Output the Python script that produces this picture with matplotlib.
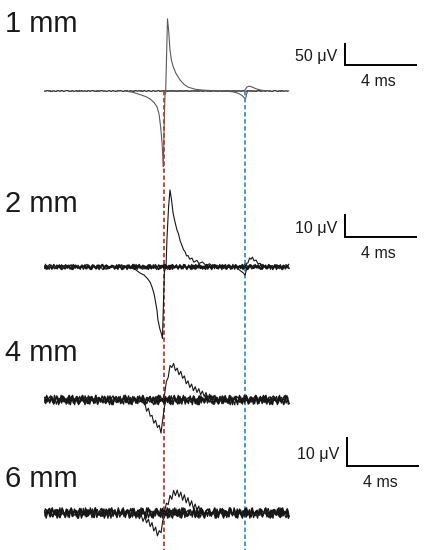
import numpy as np
import matplotlib
matplotlib.use("Agg")
import matplotlib.pyplot as plt

plt.rcParams['font.family'] = ['Liberation Sans', 'DejaVu Sans']

# distances from the source and sweep length (ms)
labels = ["1 mm", "2 mm", "4 mm", "6 mm"]
sweep_ms = 13.6
red_ms = 6.67     # first component latency
blue_ms = 11.17   # second component latency

# baseline noise (read as jitter, scaled per distance in uV)
noise_a = [0.3, -0.5, 0.8, -0.2, -0.9, 0.4, 0.1, -0.6, 0.7, -0.3,
           0.9, -0.8, 0.2, 0.5, -0.4, -0.1, 0.6, -0.7, 0.3, -0.9,
           0.8, 0.0, -0.5, 0.4, -0.2, 0.7, -0.6, 0.1, 0.9, -0.3,
           -0.8, 0.5, -0.1, 0.6, -0.4, 0.2, -0.7, 0.8, -0.5, 0.3,
           0.0, -0.9, 0.7, -0.2, 0.4, -0.6, 0.9, -0.1, -0.4, 0.6,
           -0.8, 0.2, 0.5, -0.3, 0.7, -0.7, 0.1, 0.8, -0.5, -0.2,
           0.4, -0.9, 0.6, 0.0, -0.3, 0.9, -0.6, 0.2, -0.1, 0.7,
           -0.8, 0.5, -0.4, 0.3, 0.8, -0.2, -0.7, 0.1, 0.6, -0.5,
           0.9, -0.3, 0.2, -0.8, 0.4, -0.1, 0.7, -0.6, 0.3, 0.5,
           -0.9, 0.0, 0.8, -0.4, 0.2, -0.7, 0.6, -0.2, 0.4, -0.5,
           0.9, -0.8, 0.1, 0.3, -0.6, 0.7, -0.1, -0.4, 0.8, -0.9,
           0.5, 0.2, -0.3, 0.6, -0.7, 0.0, 0.9, -0.5, 0.4, -0.2,
           -0.8, 0.7, 0.1, -0.6, 0.3, 0.5, -0.4, 0.8, -0.1, -0.7,
           0.2, 0.6, -0.3, -0.9, 0.4, 0.7, -0.5, 0.1, -0.2, 0.3]
noise_b = [-0.4, 0.6, -0.1, 0.8, -0.7, 0.2, -0.9, 0.5, 0.0, -0.3,
           0.7, -0.6, 0.4, 0.9, -0.2, -0.8, 0.3, -0.5, 0.6, 0.1,
           -0.7, 0.8, -0.3, 0.2, -0.9, 0.5, -0.1, 0.7, -0.4, 0.0,
           0.6, -0.8, 0.9, -0.2, 0.3, -0.6, 0.1, 0.4, -0.7, 0.8,
           -0.5, 0.2, -0.3, 0.9, -0.1, -0.8, 0.5, 0.6, -0.4, 0.0,
           0.3, -0.9, 0.7, -0.2, 0.1, 0.8, -0.6, 0.4, -0.5, 0.9,
           -0.1, -0.3, 0.6, -0.8, 0.2, 0.5, -0.7, 0.0, 0.8, -0.4,
           0.3, -0.6, 0.9, -0.2, 0.1, -0.9, 0.7, 0.4, -0.5, 0.2,
           -0.3, 0.8, -0.1, -0.7, 0.6, 0.0, -0.4, 0.9, -0.8, 0.5,
           0.1, -0.2, 0.7, -0.6, 0.3, -0.9, 0.4, 0.8, -0.1, -0.5,
           0.6, -0.3, 0.2, -0.8, 0.9, 0.0, -0.7, 0.5, -0.2, 0.3,
           -0.6, 0.7, -0.4, 0.1, 0.8, -0.9, 0.2, -0.1, 0.6, -0.5,
           0.4, -0.8, 0.3, 0.9, -0.3, 0.0, -0.6, 0.7, -0.2, 0.5,
           -0.9, 0.1, 0.8, -0.4, 0.6, -0.7, 0.2, -0.1, 0.4, -0.3]
noise_uv = [1.6, 1.3, 1.8, 2.0]

# 1 mm
p1_pos_t = [6.40, 6.76, 6.81, 6.86, 6.92, 7.00, 7.08, 7.18, 7.33, 7.56, 7.78, 8.00,
            8.39, 8.83, 9.50, 10.33, 11.11, 11.19, 11.28, 11.39, 11.56, 11.78, 12.11, 12.56]
p1_pos_v = [0, 0, 80, 164, 140, 93, 70, 55, 40, 25, 15, 9,
            4, 2, 0.5, 0, 0, 4, 9, 11, 9, 5, 1.5, 0]
p1_neg_t = [4.50, 4.94, 5.33, 5.67, 5.89, 6.11, 6.28, 6.39, 6.48, 6.56, 6.59, 6.63,
            6.67, 6.72, 6.78, 10.06, 10.50, 10.78, 11.00, 11.14, 11.19, 11.25, 11.31, 11.72]
p1_neg_v = [0, -3, -8, -13, -18, -26, -36, -52, -82, -118, -140, -172,
            -90, -10, 0, 0, -2, -5, -10, -16, -20, -8, 0, 0]

# 2 mm
p2_pos_t = [6.40, 6.78, 6.83, 6.92, 7.00, 7.08, 7.17, 7.28, 7.39, 7.47, 7.56, 7.67, 7.75,
            7.83, 7.92, 8.00, 8.10, 8.22, 8.32, 8.50, 8.60, 8.80, 9.00, 9.20, 9.40, 9.60,
            9.78, 11.17, 11.25, 11.33, 11.42, 11.50, 11.58, 11.67, 11.78, 11.89, 12.00,
            12.17, 12.56]
p2_pos_v = [0, 0, 12, 26, 33.5, 29.5, 23.5, 19.5, 16, 14.5, 11.5, 9.2, 7.5,
            6.8, 4.8, 5.0, 3.4, 3.9, 2.1, 2.9, 1.5, 2.2, 0.6, 1.4, 0.0, 0.8,
            0.0, 0, 1.6, 1.8, 3.9, 3.4, 4.3, 2.7, 3.0, 1.4, 1.6,
            0.3, 0]
p2_neg_t = [4.67, 5.06, 5.33, 5.56, 5.72, 5.89, 6.00, 6.11, 6.17, 6.28, 6.33, 6.44,
            6.56, 6.58, 6.64, 6.69, 6.78, 10.67, 10.89, 11.06, 11.17, 11.25, 11.33]
p2_neg_v = [0, -1, -2.6, -3.5, -4.8, -6.5, -8.7, -11.5, -14, -19, -23, -27,
            -30, -31, -15, -2, 0, 0, -1.5, -2.5, -3.5, -1, 0]

# 4 mm
p3_pos_t = [6.6, 6.7, 6.8, 6.9, 7.0, 7.1, 7.2, 7.3, 7.4, 7.5, 7.6, 7.7, 7.8, 7.9, 8.0, 8.1, 8.2,
            8.3, 8.4, 8.5, 8.6, 8.7, 8.8, 8.9, 9.0, 9.1, 9.2, 9.3, 9.4, 9.5, 9.6, 9.7, 9.8, 9.9]
p3_pos_v = [0.3, 2.0, 6.4, 7.8, 11.9, 11.2, 12.6, 10.1, 11.0, 8.7, 9.9, 7.5, 8.3, 5.6, 6.6, 4.3, 5.5,
            3.2, 4.6, 2.6, 3.9, 1.8, 3.1, 1.2, 2.6, 0.6, 2.0, 0.1, 1.5, -0.4, 1.0, -0.6, 0.8, -0.2]
p3_neg_t = [5.4, 5.5, 5.6, 5.7, 5.8, 5.9, 6.0, 6.1, 6.2, 6.3, 6.4, 6.5, 6.6, 6.7, 6.8]
p3_neg_v = [0.4, -1.1, -1.0, -3.9, -2.8, -5.6, -5.3, -8.0, -7.0, -9.5, -8.7, -11.4, -6.5, -2.1, 0.3]

# 6 mm
p4_pos_t = [6.6, 6.7, 6.8, 6.9, 7.0, 7.1, 7.2, 7.3, 7.4, 7.5, 7.6, 7.7,
            7.8, 7.9, 8.0, 8.1, 8.2, 8.3, 8.4, 8.5, 8.6, 8.7, 8.8, 8.9]
p4_pos_v = [0.5, 0.4, 3.4, 2.9, 6.1, 4.7, 7.8, 6.0, 7.9, 5.5, 7.2, 4.4,
            6.3, 3.5, 5.3, 2.4, 4.2, 1.5, 3.1, 0.8, 2.4, -0.3, 1.3, -0.2]
p4_neg_t = [5.0, 5.1, 5.2, 5.3, 5.4, 5.5, 5.6, 5.7, 5.8, 5.9, 6.0, 6.1, 6.2, 6.3, 6.4, 6.5, 6.6, 6.7, 6.8]
p4_neg_v = [0.6, -0.9, 0.2, -2.0, -0.6, -2.9, -1.3, -3.4, -2.1, -4.7, -3.3, -6.2, -4.9, -7.9, -6.1,
            -6.8, -2.6, -1.4, 0.4]

pos_t = [p1_pos_t, p2_pos_t, p3_pos_t, p4_pos_t]
pos_v = [p1_pos_v, p2_pos_v, p3_pos_v, p4_pos_v]
neg_t = [p1_neg_t, p2_neg_t, p3_neg_t, p4_neg_t]
neg_v = [p1_neg_v, p2_neg_v, p3_neg_v, p4_neg_v]

# scale bars
bar_panel = [0, 1, 3]
bar_uv = [50, 10, 10]
bar_ms = [4, 4, 4]

# ---- layout (pixels of the 427x550 figure) ----
W, H = 427, 550
x0_px = 44
px_per_ms = 18.0
base_px = [91, 267, 400, 513]
px_per_uv = [0.44, 2.3, 2.9, 2.9]
label_base_px = [32, 212, 361, 487]
bar_x_px = [345, 345, 347]
bar_bottom_px = [64.5, 237, 466]
trace_col = ['#5a5a5a', '#161616', '#161616', '#161616']
noise_col = ['#2a2a2a', '#161616', '#161616', '#161616']
noise_lw = [0.6, 0.8, 0.9, 0.9]

fig = plt.figure(figsize=(W / 100, H / 100), dpi=100)
xmax = (W - x0_px) / px_per_ms

axes = []
for i in range(4):
    ax = fig.add_axes([x0_px / W, 0, (W - x0_px) / W, 1])
    ax.set_xlim(0, xmax)
    ax.set_ylim(-(H - base_px[i]) / px_per_uv[i], base_px[i] / px_per_uv[i])
    ax.axis('off')
    ax.patch.set_alpha(0)
    axes.append(ax)

    # two sweeps per distance, each with its own baseline noise
    ta = np.linspace(0, sweep_ms, len(noise_a))
    tb = np.linspace(0.05, sweep_ms - 0.05, len(noise_b))
    ax.plot(ta, np.roll(noise_a, 23 * i) * noise_uv[i], color=noise_col[i], lw=noise_lw[i])
    ax.plot(tb, np.roll(noise_b, 41 * i) * noise_uv[i], color=noise_col[i], lw=noise_lw[i])
    if i > 0:
        ax.plot(ta + 0.025, np.roll(noise_b, 7 + 13 * i) * noise_uv[i], color=noise_col[i], lw=noise_lw[i])
        ax.plot(tb + 0.025, np.roll(noise_a, 11 + 29 * i) * noise_uv[i], color=noise_col[i], lw=noise_lw[i])
    ax.plot(pos_t[i], pos_v[i], color=trace_col[i], lw=0.8)
    ax.plot(neg_t[i], neg_v[i], color=trace_col[i], lw=0.8)

    fig.text(5.5 / W, 1 - label_base_px[i] / H, labels[i], fontsize=21,
             ha='left', va='baseline', color='#1a1a1a')

# latency markers from the 1 mm baseline down to the bottom
ax0 = axes[0]
ybot = -(H - base_px[0]) / px_per_uv[0]
ax0.plot([red_ms, red_ms], [0, ybot], color='#c0392b', lw=1.3,
         linestyle=(0, (2.4, 1.5)), zorder=5)
ax0.plot([blue_ms, blue_ms], [0, ybot], color='#3b8ec8', lw=1.3,
         linestyle=(0, (2.4, 1.5)), zorder=5)

for k in range(3):
    ax = axes[bar_panel[k]]
    i = bar_panel[k]
    t0 = (bar_x_px[k] - x0_px) / px_per_ms
    v0 = (base_px[i] - bar_bottom_px[k]) / px_per_uv[i]
    ax.plot([t0, t0, t0 + bar_ms[k]], [v0 + bar_uv[k], v0, v0],
            color='black', lw=1.4, solid_capstyle='butt', solid_joinstyle='miter')
    ax.annotate(f"{bar_uv[k]} \u03bcV", xy=(t0, v0 + bar_uv[k] / 2), xytext=(-8, -7.5),
                textcoords='offset pixels', ha='right', va='baseline', fontsize=11.5,
                color='#1a1a1a')
    ax.annotate(f"{bar_ms[k]} ms", xy=(t0 + bar_ms[k] / 2, v0), xytext=(-3, -21),
                textcoords='offset pixels', ha='center', va='baseline', fontsize=11.5,
                color='#1a1a1a')

fig.savefig("out.png", dpi=100, facecolor='white')
